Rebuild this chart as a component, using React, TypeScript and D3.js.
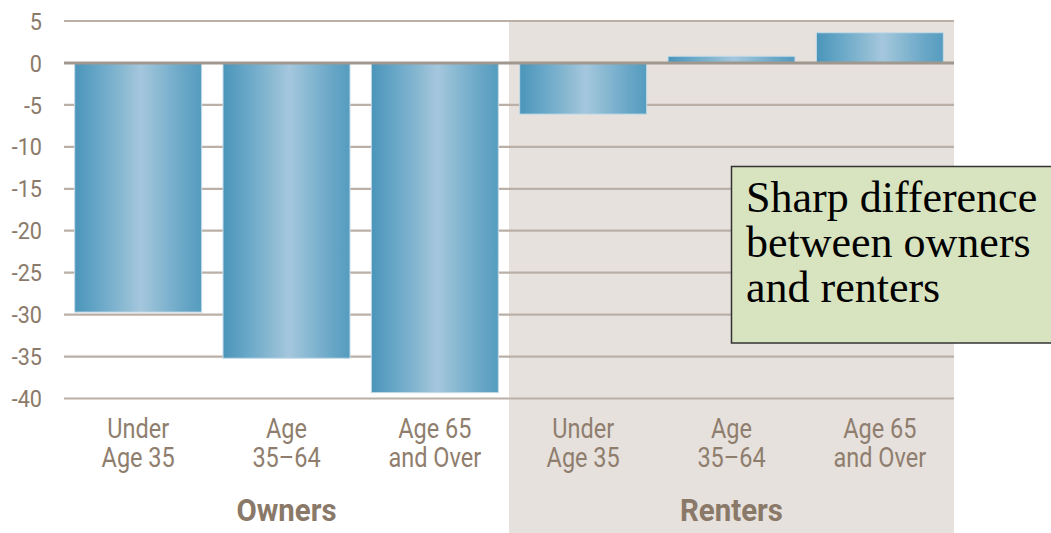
import React from "react";
import * as d3 from "d3";

const groups = ["Owners", "Renters"];
const ageLines = [
  ["Under", "Age 35"],
  ["Age", "35–64"],
  ["Age 65", "and Over"],
];
const ownerValues = [-29.7, -35.2, -39.3];
const renterValues = [-6.1, 0.8, 3.6];
const yTicks = [5, 0, -5, -10, -15, -20, -25, -30, -35, -40];
const note = ["Sharp difference", "between owners", "and renters"];

const W = 1051;
const H = 533;
const FONT_C = "Roboto, 'Liberation Sans', sans-serif";

function NText(props: {
  x: number;
  y: number;
  sx: number;
  anchor: "start" | "middle" | "end";
  size: number;
  fill: string;
  weight?: string;
  dy?: string;
  children: React.ReactNode;
}) {
  return (
    <g transform={`translate(${props.x},${props.y}) scale(${props.sx},1)`}>
      <text
        x={0}
        y={0}
        dy={props.dy}
        textAnchor={props.anchor}
        fontFamily={FONT_C}
        fontSize={props.size}
        fontWeight={props.weight ?? "normal"}
        fill={props.fill}
      >
        {props.children}
      </text>
    </g>
  );
}

export default function App() {
  const rows = groups.flatMap((g, gi) =>
    (gi === 0 ? ownerValues : renterValues).map((v, i) => ({
      key: `${g}-${i}`,
      group: g,
      gi,
      lines: ageLines[i],
      value: v,
    }))
  );

  const x = d3
    .scaleBand<string>()
    .domain(rows.map((r) => r.key))
    .range([64, 954])
    .paddingInner(0.144)
    .paddingOuter(0.072);
  const y = d3.scaleLinear().domain([-40, 5]).range([398.5, 21]);

  const renterStart = (x(rows[2].key)! + x.bandwidth() + x(rows[3].key)!) / 2;
  const groupCenter = (gi: number) => {
    const rs = rows.filter((r) => r.gi === gi);
    const a = x(rs[0].key)!;
    const b = x(rs[rs.length - 1].key)! + x.bandwidth();
    return (a + b) / 2;
  };

  return (
    <svg
      width={W}
      height={H}
      style={{ position: "absolute", left: 0, top: 0, background: "#fff" }}
    >
      <defs>
        <linearGradient id="barGrad" x1="0" x2="1" y1="0" y2="0">
          <stop offset="0%" stopColor="#4a95ba" />
          <stop offset="20%" stopColor="#6aa8c8" />
          <stop offset="38%" stopColor="#8ab9d2" />
          <stop offset="52%" stopColor="#a5c7dd" />
          <stop offset="66%" stopColor="#8bbad3" />
          <stop offset="85%" stopColor="#6aa7c7" />
          <stop offset="100%" stopColor="#559cbf" />
        </linearGradient>
      </defs>

      {/* renters shaded panel */}
      <rect
        x={renterStart}
        y={20}
        width={954 - renterStart}
        height={H - 20}
        fill="#e6e1dd"
      />

      {/* gridlines */}
      {yTicks
        .filter((t) => t !== 0)
        .map((t) => (
          <line
            key={t}
            x1={64}
            x2={954}
            y1={y(t)}
            y2={y(t)}
            stroke="#bab0a7"
            strokeWidth={2.2}
          />
        ))}

      {/* bars */}
      {rows.map((r) => {
        const y0 = y(0);
        const yv = y(r.value);
        return (
          <rect
            key={r.key}
            x={x(r.key)}
            y={Math.min(y0, yv)}
            width={x.bandwidth()}
            height={Math.abs(yv - y0)}
            fill="url(#barGrad)"
            stroke="#c4dbe7"
            strokeWidth={1}
          />
        );
      })}

      {/* zero line */}
      <line
        x1={64}
        x2={954}
        y1={y(0)}
        y2={y(0)}
        stroke="#a0978e"
        strokeWidth={3}
      />

      {/* y tick labels */}
      {yTicks.map((t) => (
        <NText
          key={t}
          x={42}
          y={y(t)}
          dy="0.36em"
          sx={0.9}
          anchor="end"
          size={24}
          fill="#8b7a6a"
        >
          {t}
        </NText>
      ))}

      {/* category labels */}
      {rows.map((r) =>
        r.lines.map((l, i) => (
          <NText
            key={`${r.key}-${i}`}
            x={x(r.key)! + x.bandwidth() / 2}
            y={438 + i * 29}
            sx={0.87}
            anchor="middle"
            size={27}
            fill="#8f7e6e"
          >
            {l}
          </NText>
        ))
      )}

      {/* group labels */}
      {groups.map((g, gi) => (
        <NText
          key={g}
          x={groupCenter(gi)}
          y={521}
          sx={0.92}
          anchor="middle"
          size={32}
          weight="bold"
          fill="#8a7968"
        >
          {g}
        </NText>
      ))}

      {/* annotation box */}
      <rect
        x={731.5}
        y={166.5}
        width={330}
        height={176.5}
        fill="#d8e4c0"
        stroke="#333"
        strokeWidth={1.5}
      />
      {note.map((l, i) => (
        <text
          key={i}
          x={746}
          y={212 + i * 45}
          fontFamily="'Liberation Serif', 'Times New Roman', serif"
          fontSize={44}
          fill="#000"
        >
          {l}
        </text>
      ))}
    </svg>
  );
}
